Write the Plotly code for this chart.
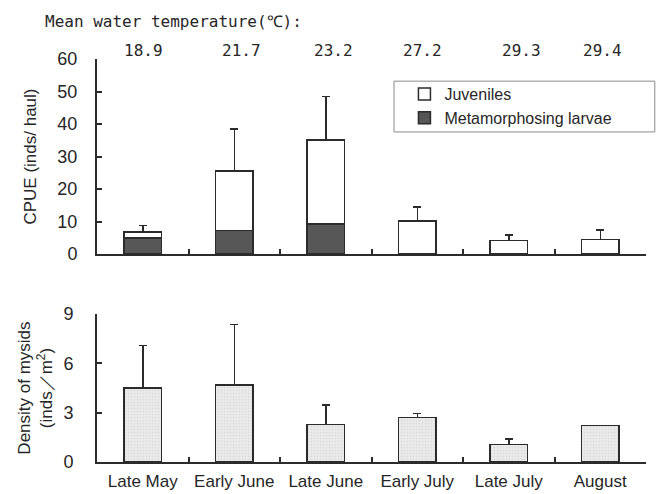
import plotly.graph_objects as go

# Sampling periods
periods = ["Late May", "Early June", "Late June", "Early July", "Late July", "August"]

# Mean water temperature (°C) per period
temperature = ["18.9", "21.7", "23.2", "27.2", "29.3", "29.4"]

# CPUE (inds/haul), stacked: metamorphosing larvae + juveniles
larvae = [5.0, 7.2, 9.3, None, None, None]
juveniles = [1.8, 18.3, 25.8, 10.2, 4.1, 4.5]
cpue_sd = [2.0, 12.9, 13.4, 4.3, 1.7, 2.9]

# Density of mysids (inds/m2)
mysid_density = [4.5, 4.7, 2.27, 2.71, 1.05, 2.23]
mysid_sd = [2.6, 3.67, 1.21, 0.23, 0.35, None]

# Horizontal placement of the temperature labels (paper fraction)
temp_label_x = [0.084, 0.263, 0.430, 0.592, 0.774, 0.920]

INK = "#2b2b2b"
TEXT = "#262626"
FONT = "Liberation Sans, Arial, sans-serif"
MONO = "DejaVu Sans Mono, monospace"

fig = go.Figure()

fig.add_trace(go.Bar(
    x=periods, y=larvae, name="Metamorphosing larvae",
    marker=dict(color="#575757", line=dict(color=INK, width=1.5)),
    xaxis="x", yaxis="y", width=0.41,
))
fig.add_trace(go.Bar(
    x=periods, y=juveniles, name="Juveniles",
    marker=dict(color="white", line=dict(color=INK, width=1.5)),
    error_y=dict(type="data", symmetric=False, array=cpue_sd,
                 arrayminus=[0] * len(cpue_sd), color=INK, thickness=1.5, width=4),
    xaxis="x", yaxis="y", width=0.41,
))
fig.add_trace(go.Bar(
    x=periods, y=mysid_density, showlegend=False,
    marker=dict(color="#e3e3e3", line=dict(color=INK, width=1.5),
                pattern=dict(shape=".", fgcolor="#c8c8c8", bgcolor="#ececec", size=3, solidity=0.3)),
    error_y=dict(type="data", symmetric=False, array=mysid_sd,
                 arrayminus=[0] * len(mysid_sd), color=INK, thickness=1.5, width=4),
    xaxis="x2", yaxis="y2", width=0.41,
))

axis_common = dict(
    showline=True, linecolor=INK, linewidth=2,
    ticks="inside", ticklen=5, tickwidth=2, tickcolor=INK,
    showgrid=False, zeroline=False, automargin=False,
    tickfont=dict(family=FONT, size=18, color=TEXT),
)

fig.update_layout(
    width=659, height=494,
    margin=dict(l=97, r=13, t=59, b=32),
    paper_bgcolor="white", plot_bgcolor="white",
    barmode="stack",
    font=dict(family=FONT, color=TEXT),
    xaxis=dict(**axis_common, type="category", tickson="boundaries",
               showticklabels=False, anchor="y", domain=[0, 1]),
    yaxis=dict(**axis_common, range=[0, 60], tickvals=[0, 10, 20, 30, 40, 50, 60],
               domain=[0.516, 1], anchor="x", ticklabelstandoff=14,
               title=dict(text="CPUE (inds/ haul)", standoff=16,
                          font=dict(family=FONT, size=17, color=TEXT))),
    xaxis2=dict(**axis_common, type="category", tickson="boundaries",
                anchor="y2", domain=[0, 1], ticklabelstandoff=3),
    yaxis2=dict(**axis_common, range=[0, 9], tickvals=[0, 3, 6, 9],
                domain=[0, 0.367], anchor="x2", ticklabelstandoff=18,
                title=dict(text="Density of mysids<br>(inds／m<sup>2</sup>)", standoff=6,
                           font=dict(family=FONT, size=17, color=TEXT))),
    legend=dict(
        x=0.56, y=0.955, xanchor="left", yanchor="top",
        traceorder="reversed",
        borderwidth=0, bgcolor="rgba(0,0,0,0)",
        font=dict(family=FONT, size=16, color=TEXT),
        itemwidth=30, tracegroupgap=0,
    ),
)

fig.update_layout(xaxis2_tickfont=dict(family=FONT, size=17, color=TEXT))

# frame around the legend
fig.add_shape(type="rect", xref="paper", yref="paper",
              x0=0.541, x1=1.016, y0=0.819, y1=0.945,
              line=dict(color="#8a8a8a", width=1), fillcolor="rgba(0,0,0,0)", layer="below")

fig.add_annotation(
    text="Mean water temperature(℃):", xref="paper", yref="paper",
    x=-0.098, y=1.092, xanchor="left", yanchor="middle", showarrow=False,
    font=dict(family=MONO, size=16, color=TEXT),
)
for label, px in zip(temperature, temp_label_x):
    fig.add_annotation(
        text=label, xref="paper", yref="paper", x=px, y=1.022,
        xanchor="center", yanchor="middle", showarrow=False,
        font=dict(family=MONO, size=16, color=TEXT),
    )

fig.write_html("out.html")
